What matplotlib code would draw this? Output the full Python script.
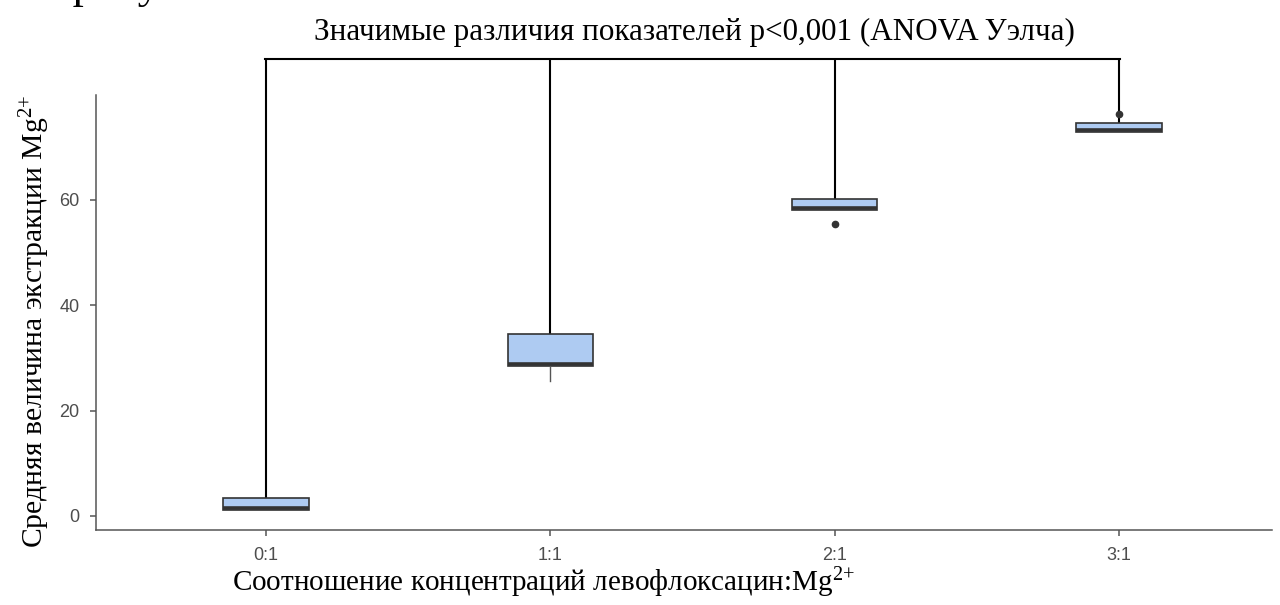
import matplotlib
matplotlib.use("Agg")
import matplotlib.pyplot as plt

plt.rcParams["mathtext.fontset"] = "custom"
plt.rcParams["mathtext.rm"] = "Liberation Serif"
plt.rcParams["mathtext.it"] = "Liberation Serif:italic"

# Ratio groups and box statistics of Mg2+ extraction
categories = ["0:1", "1:1", "2:1", "3:1"]
q1 = [1.1, 28.5, 58.1, 72.9]
median = [1.6, 28.8, 58.4, 73.2]
q3 = [3.4, 34.6, 60.2, 74.6]
whisker_low = [1.1, 25.6, 58.1, 72.9]
whisker_high = [3.4, 34.6, 60.2, 74.6]
outliers = [[], [], [55.5], [76.3]]
bracket_level = 86.8
yticks = [0, 20, 40, 60]

W, H = 1280, 605
fig = plt.figure(figsize=(W / 100, H / 100), dpi=100)
ax = fig.add_axes([96 / W, 1 - 530 / H, (1272 - 96) / W, (530 - 95) / H])

positions = list(range(len(categories)))
stats = []
for i, name in enumerate(categories):
    stats.append(dict(label=name, med=median[i], q1=q1[i], q3=q3[i],
                      whislo=whisker_low[i], whishi=whisker_high[i],
                      fliers=outliers[i]))

box_edge = "#333333"
ax.bxp(stats, positions=positions, widths=0.3, patch_artist=True,
       showcaps=False,
       boxprops=dict(facecolor="#aecbf2", edgecolor=box_edge, linewidth=1.2),
       medianprops=dict(color=box_edge, linewidth=2.6),
       whiskerprops=dict(color="#555555", linewidth=1.0),
       flierprops=dict(marker="o", markerfacecolor=box_edge,
                       markeredgecolor=box_edge, markersize=4.5),
       zorder=3)

# Significance bracket linking all groups
for i in positions:
    ax.plot([i, i], [q3[i], bracket_level], color="black", lw=1.5,
            clip_on=False, zorder=2, solid_capstyle="butt")
ax.plot([positions[0] - 0.003, positions[-1] + 0.003],
        [bracket_level, bracket_level], color="black", lw=1.5,
        clip_on=False, zorder=2, solid_capstyle="projecting")

ax.set_xlim(-0.598, 3.538)
ax.set_ylim(-2.66, 79.9)
ax.set_xticks(positions)
ax.set_xticklabels(categories)
ax.set_yticks(yticks)

for side in ("top", "right"):
    ax.spines[side].set_visible(False)
for side in ("left", "bottom"):
    ax.spines[side].set_color("#555555")
    ax.spines[side].set_linewidth(1.1)
ax.tick_params(axis="both", colors="#555555", width=1.1, length=4,
               labelcolor="#4d4d4d", labelsize=13, pad=8)
for lab in ax.get_xticklabels() + ax.get_yticklabels():
    lab.set_fontfamily("Liberation Sans")

serif = "Liberation Serif"
sup = r"$^{\mathrm{2}{+}}$"
fig.text(694 / W, 1 - 32 / H,
         "Значимые различия показателей p<0,001 (ANOVA Уэлча)",
         family=serif, fontsize=22.4, ha="center", va="center")
fig.text(543 / W, 1 - 583 / H,
         "Соотношение концентраций левофлоксацин:Mg" + sup,
         family=serif, fontsize=21, ha="center", va="center")
fig.text(35 / W, 1 - 321 / H,
         "Средняя величина экстракции Mg" + sup,
         family=serif, fontsize=21.3, ha="center", va="center",
         rotation=90)
fig.text(268 / W, 1 + 2 / H, "на рисунке 1.", family=serif, fontsize=32,
         ha="right", va="baseline")

fig.savefig("out.png", dpi=100)
